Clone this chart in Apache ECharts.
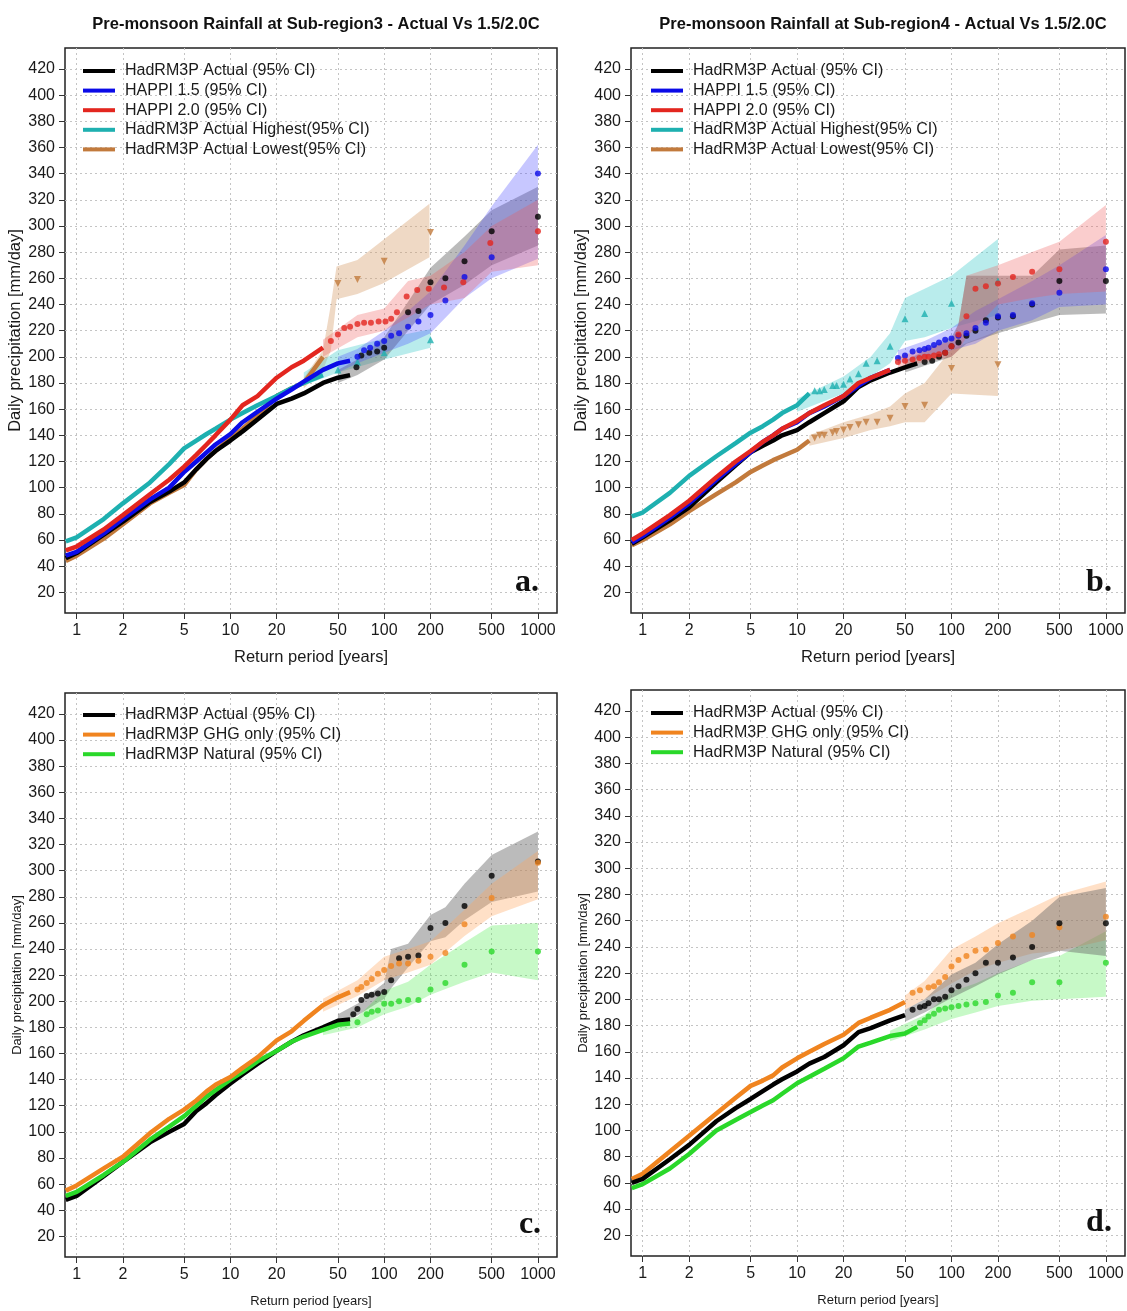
<!DOCTYPE html>
<html>
<head>
<meta charset="utf-8">
<title>Pre-monsoon rainfall return periods</title>
<script src="https://cdn.jsdelivr.net/npm/echarts@6.0.0/dist/echarts.min.js"></script>
<style>
  html, body { margin: 0; padding: 0; background: #fff; }
  #chart { width: 1127px; height: 1311px; }
</style>
</head>
<body>
<div id="chart"></div>
<script>
// axis ticks
const xTicks = [1, 2, 5, 10, 20, 50, 100, 200, 500, 1000];
const yTicks = [20, 40, 60, 80, 100, 120, 140, 160, 180, 200, 220, 240, 260, 280, 300, 320, 340, 360, 380, 400, 420];

// return periods of the dense part of every curve (drawn as a line)
const lineT = [0.85, 1, 1.5, 2, 3, 4, 5, 6, 7, 8, 10, 12, 15, 20, 25, 30, 40, 50, 60];

// ---- panel a : Sub-region3, actual vs 1.5/2.0C ----
const aBlackLine = [46, 50, 64, 74, 89, 97, 104, 114, 122, 128, 136, 143, 152, 164, 168, 172, 180, 184, 186];
const aBlackDotT = [66, 71, 80, 90, 100, 143, 167, 200, 250, 333, 500, 1000];
const aBlackDotV = [192, 201, 203, 204, 207, 234, 235, 257, 260, 273, 296, 307];
const aBlackBandT = [50, 67, 100, 143, 200, 333, 500, 1000];
const aBlackLo = [180, 186, 198, 220, 240, 255, 270, 285];
const aBlackHi = [190, 198, 215, 242, 268, 292, 312, 330];

const aBlueLine = [48, 51, 65, 76, 91, 100, 112, 120, 127, 133, 141, 150, 158, 168, 175, 181, 190, 195, 197];
const aBlueDotT = [67, 74, 81, 90, 100, 111, 125, 143, 167, 200, 250, 333, 500, 1000];
const aBlueDotV = [200, 205, 207, 210, 212, 216, 218, 223, 227, 232, 243, 261, 276, 340];
const aBlueBandT = [50, 67, 100, 143, 200, 333, 500, 1000];
const aBlueLo = [188, 195, 203, 210, 218, 245, 260, 275];
const aBlueHi = [200, 206, 220, 235, 250, 285, 315, 362];

const aRedLine = [52, 55, 68, 79, 95, 106, 116, 125, 133, 140, 152, 163, 170, 184, 192, 197, 207];
const aRedDotT = [45, 50, 55, 60, 67, 74, 82, 92, 102, 111, 121, 140, 164, 195, 245, 327, 490, 1000];
const aRedDotV = [212, 217, 222, 223, 225, 226, 226, 227, 227, 229, 234, 246, 251, 252, 253, 257, 287, 296];
const aRedBandT = [40, 67, 100, 143, 200, 333, 500, 1000];
const aRedLo = [200, 215, 220, 230, 240, 245, 265, 270];
const aRedHi = [213, 232, 237, 258, 262, 280, 300, 320];

const aCyanLine = [59, 62, 76, 88, 104, 118, 130, 136, 141, 145, 152, 157, 163, 170, 176, 180, 186];
const aCyanDotT = [50, 67, 100, 200];
const aCyanDotV = [190, 196, 203, 213];
const aCyanBandT = [30, 50, 100, 200];
const aCyanLo = [178, 188, 198, 207];
const aCyanHi = [188, 205, 214, 221];

const aBrownLine = [44, 48, 61, 72, 88, 96, 102, 114, 122, 128, 138, 145, 155, 170, 176, 180, 200];
const aBrownDotT = [50, 67, 100, 200];
const aBrownDotV = [256, 259, 273, 295];
const aBrownBandT = [30, 40, 45, 49, 67, 98, 197];
const aBrownLo = [176, 190, 205, 244, 248, 256, 276];
const aBrownHi = [184, 205, 240, 269, 274, 289, 317];

// ---- panel b : Sub-region4, actual vs 1.5/2.0C ----
const bBlackLine = [57, 62, 75, 85, 104, 117, 127, 132, 136, 140, 144, 150, 157, 166, 177, 182, 188, 192, 195];
const bBlackDotT = [67, 75, 83, 91, 100, 111, 125, 143, 167, 200, 250, 333, 500, 1000];
const bBlackDotV = [196, 197, 200, 203, 208, 211, 216, 220, 228, 230, 231, 240, 258, 258];
const bBlackBandT = [50, 100, 111, 125, 200, 333, 500, 1000];
const bBlackLo = [188, 200, 205, 210, 218, 226, 232, 233];
const bBlackHi = [197, 215, 225, 262, 262, 262, 282, 285];

const bBlueLine = [58, 63, 77, 88, 106, 118, 127, 135, 140, 145, 150, 157, 162, 170, 178, 184, 190];
const bBlueDotT = [45, 50, 56, 62, 67, 71, 77, 83, 91, 100, 111, 125, 143, 167, 200, 250, 333, 500, 1000];
const bBlueDotV = [199, 201, 204, 205, 206, 207, 209, 211, 213, 214, 216, 218, 222, 226, 231, 232, 241, 249, 267];
const bBlueBandT = [45, 67, 100, 143, 200, 333, 500, 1000];
const bBlueLo = [195, 200, 205, 210, 220, 228, 238, 240];
const bBlueHi = [205, 212, 222, 235, 244, 258, 270, 293];

const bRedLine = [60, 65, 79, 90, 108, 120, 128, 135, 140, 145, 151, 157, 163, 170, 180, 184, 190];
const bRedDotT = [45, 50, 56, 62, 67, 71, 77, 83, 91, 100, 111, 125, 143, 167, 200, 250, 333, 500, 1000];
const bRedDotV = [196, 197, 198, 199, 200, 200, 201, 202, 203, 208, 217, 231, 252, 254, 256, 261, 265, 267, 288];
const bRedBandT = [45, 100, 111, 125, 200, 333, 500, 1000];
const bRedLo = [192, 200, 205, 215, 240, 245, 248, 250];
const bRedHi = [200, 212, 225, 262, 270, 280, 288, 316];

const bCyanLine = [78, 81, 96, 109, 124, 134, 142, 147, 152, 157, 163, 172];
const bCyanDotT = [13, 14, 15, 17, 18, 20, 22, 25, 28, 33, 40, 50, 67, 100, 200];
const bCyanDotV = [174, 174, 175, 178, 178, 179, 183, 187, 195, 197, 208, 229, 233, 241, 258];
const bCyanBandT = [10, 20, 30, 40, 50, 67, 100, 200];
const bCyanLo = [158, 172, 185, 195, 212, 215, 222, 232];
const bCyanHi = [168, 185, 200, 218, 245, 252, 262, 290];

const bBrownLine = [56, 60, 72, 82, 95, 104, 112, 117, 121, 124, 129, 136];
const bBrownDotT = [13, 14, 15, 17, 18, 20, 22, 25, 28, 33, 40, 50, 67, 100, 200];
const bBrownDotV = [138, 140, 140, 142, 143, 144, 146, 148, 150, 150, 153, 162, 163, 191, 194];
const bBrownBandT = [12, 20, 30, 40, 50, 67, 100, 200];
const bBrownLo = [132, 138, 144, 147, 150, 150, 172, 170];
const bBrownHi = [140, 150, 156, 162, 172, 180, 206, 220];

// ---- panel c : Sub-region3, actual vs GHG only / natural ----
const cBlackLine = [48, 51, 66, 77, 92, 100, 106, 116, 122, 128, 137, 144, 152, 162, 169, 174, 180, 185, 186];
const cBlackDotT = [63, 67, 71, 77, 83, 91, 100, 111, 125, 143, 167, 200, 250, 333, 500, 1000];
const cBlackDotV = [190, 194, 201, 204, 205, 206, 207, 216, 233, 234, 235, 256, 260, 273, 296, 307];
const cBlackBandT = [50, 67, 100, 111, 143, 200, 250, 333, 500, 1000];
const cBlackLo = [182, 189, 202, 210, 226, 246, 249, 262, 276, 284];
const cBlackHi = [190, 198, 214, 240, 244, 266, 272, 290, 312, 330];

const cOrangeLine = [55, 59, 72, 81, 99, 110, 117, 124, 131, 136, 142, 149, 157, 170, 177, 185, 197, 203, 207];
const cOrangeDotT = [67, 71, 77, 83, 91, 100, 111, 125, 143, 167, 200, 250, 333, 500, 1000];
const cOrangeDotV = [209, 211, 214, 217, 221, 224, 227, 229, 229, 231, 234, 237, 259, 279, 306];
const cOrangeBandT = [40, 67, 100, 143, 200, 333, 500, 1000];
const cOrangeLo = [192, 204, 216, 222, 228, 250, 265, 278];
const cOrangeHi = [202, 216, 234, 240, 246, 270, 290, 315];

const cGreenLine = [51, 54, 67, 77, 94, 104, 112, 120, 127, 132, 140, 146, 154, 162, 169, 173, 178, 182, 183];
const cGreenDotT = [67, 77, 83, 91, 100, 111, 125, 143, 167, 200, 250, 333, 500, 1000];
const cGreenDotV = [184, 190, 192, 193, 198, 198, 200, 201, 201, 209, 214, 228, 238, 238];
const cGreenBandT = [40, 67, 100, 143, 200, 333, 500, 1000];
const cGreenLo = [174, 180, 190, 196, 205, 215, 222, 216];
const cGreenHi = [182, 188, 208, 215, 228, 245, 258, 260];

// ---- panel d : Sub-region4, actual vs GHG only / natural ----
const dBlackLine = [60, 63, 78, 89, 107, 117, 124, 130, 135, 139, 145, 151, 156, 165, 175, 178, 184, 188];
const dBlackDotT = [56, 62.5, 67, 71, 77, 83, 91, 100, 111, 125, 143, 167, 200, 250, 333, 500, 1000];
const dBlackDotV = [192, 194, 195, 197, 200, 200, 202, 207, 210, 215, 220, 228, 228, 232, 240, 258, 258];
const dBlackBandT = [50, 67, 100, 143, 200, 333, 500, 1000];
const dBlackLo = [183, 190, 201, 210, 219, 230, 237, 233];
const dBlackHi = [192, 200, 219, 228, 242, 260, 278, 285];

const dOrangeLine = [63, 67, 84, 96, 113, 125, 134, 138, 142, 148, 155, 160, 166, 173, 182, 186, 192, 198];
const dOrangeDotT = [56, 62.5, 71, 77, 83, 91, 100, 111, 125, 143, 167, 200, 250, 333, 500, 1000];
const dOrangeDotV = [205, 207, 209, 210, 213, 217, 225, 230, 233, 237, 238, 243, 248, 249, 255, 263];
const dOrangeBandT = [50, 67, 100, 143, 200, 333, 500, 1000];
const dOrangeLo = [192, 200, 212, 222, 228, 235, 237, 245];
const dOrangeHi = [203, 214, 238, 248, 258, 270, 280, 290];

const dGreenLine = [56, 59, 71, 82, 100, 108, 114, 119, 123, 128, 136, 141, 147, 155, 164, 167, 172, 174, 179];
const dGreenDotT = [62.5, 67, 71, 77, 83, 91, 100, 111, 125, 143, 167, 200, 250, 333, 500, 1000];
const dGreenDotV = [182, 184, 187, 189, 192, 193, 194, 195, 196, 197, 198, 203, 205, 213, 213, 228];
const dGreenBandT = [40, 67, 100, 143, 200, 333, 500, 1000];
const dGreenLo = [168, 177, 185, 190, 195, 199, 200, 202];
const dGreenHi = [176, 188, 206, 212, 220, 230, 233, 252];

const NAMES = {
  actual: 'HadRM3P Actual (95% CI)',
  h15: 'HAPPI 1.5 (95% CI)',
  h20: 'HAPPI 2.0 (95% CI)',
  high: 'HadRM3P Actual Highest(95% CI)',
  low: 'HadRM3P Actual Lowest(95% CI)',
  ghg: 'HadRM3P GHG only (95% CI)',
  nat: 'HadRM3P Natural (95% CI)'
};
const COL = {
  actual: '#000000', h15: '#0b0be8', h20: '#e3261f', high: '#1eb0b0',
  low: '#c27a3c', ghg: '#f0841f', nat: '#2ad82a'
};
const FILL = {
  actual: 'rgba(105,105,105,0.45)', h15: 'rgba(70,70,255,0.3)', h20: 'rgba(240,90,90,0.3)',
  high: 'rgba(70,205,205,0.38)', low: 'rgba(215,160,110,0.4)', ghg: 'rgba(255,165,95,0.35)',
  nat: 'rgba(80,235,80,0.32)'
};

const FONT = '"Liberation Sans", Arial, sans-serif';
const fmt = v => String(+Number(v).toPrecision(6));

function pairs(T, V) {
  return V.map((v, i) => [T[i], v]);
}

// one curve = CI band + dense line + sparse points
function curve(g, key, lineV, dotT, dotV, bandT, lo, hi, sym) {
  const color = COL[key];
  return [
    {
      type: 'custom', xAxisIndex: g, yAxisIndex: g, z: 1, silent: true,
      data: bandT.map((t, i) => [t, lo[i], hi[i]]),
      encode: { x: 0, y: [1, 2] },
      renderItem: function (params, api) {
        if (params.dataIndex !== 0) return null;
        const poly = bandT.map((t, i) => api.coord([t, hi[i]]));
        for (let i = bandT.length - 1; i >= 0; i--) poly.push(api.coord([bandT[i], lo[i]]));
        return { type: 'polygon', shape: { points: poly }, style: { fill: FILL[key] } };
      }
    },
    {
      type: 'line', name: NAMES[key], xAxisIndex: g, yAxisIndex: g, z: 3,
      data: pairs(lineT, lineV), showSymbol: false,
      lineStyle: { color: color, width: 4.5 }, itemStyle: { color: color }
    },
    {
      type: 'scatter', xAxisIndex: g, yAxisIndex: g, z: 4,
      data: pairs(dotT, dotV),
      symbol: sym === 'down' || sym === 'up' ? 'triangle' : 'circle',
      symbolRotate: sym === 'down' ? 180 : 0,
      symbolSize: sym ? 7 : 6,
      itemStyle: { color: color }
    }
  ];
}

const grids = [
  { left: 65, top: 48, width: 492, height: 565 },
  { left: 631, top: 48, width: 494, height: 565 },
  { left: 65, top: 693, width: 492, height: 564 },
  { left: 631, top: 690, width: 494, height: 566 }
].map(g => Object.assign(g, {
  show: true, borderColor: '#222', borderWidth: 1.5, containLabel: false, outerBoundsMode: 'none'
}));

const gridLine = { show: true, lineStyle: { color: '#c4c4c4', width: 1, type: [2, 3] } };

const xAxes = grids.map((g, i) => ({
  type: 'log', logBase: 10, gridIndex: i, min: 0.84, max: 1330,
  axisLine: { show: false },
  axisTick: { show: true, length: 6, customValues: xTicks, lineStyle: { color: '#333' } },
  axisLabel: { customValues: xTicks, fontSize: 16, color: '#1a1a1a', margin: 10, formatter: fmt, fontFamily: FONT },
  splitLine: gridLine,
  name: 'Return period [years]', nameLocation: 'middle', nameGap: i < 2 ? 36 : 38,
  nameTextStyle: { fontSize: i < 2 ? 16.5 : 13, color: '#1a1a1a', fontFamily: FONT }
}));

const yAxes = grids.map((g, i) => ({
  type: 'value', gridIndex: i, min: 4.2, max: 436,
  axisLine: { show: false },
  axisTick: { show: true, length: 6, customValues: yTicks, lineStyle: { color: '#333' } },
  axisLabel: { customValues: yTicks, fontSize: 16, color: '#1a1a1a', margin: 10, formatter: fmt, fontFamily: FONT },
  splitLine: gridLine,
  name: 'Daily precipitation [mm/day]', nameLocation: 'middle', nameGap: i < 2 ? 38 : 40,
  nameTextStyle: { fontSize: i < 2 ? 16.5 : 13, color: '#1a1a1a', fontFamily: FONT }
}));

function legend(left, top, keys) {
  return {
    left: left, top: top, orient: 'vertical', icon: 'rect',
    itemWidth: 32, itemHeight: 4, itemGap: 3.6, selectedMode: false,
    textStyle: { fontSize: 16, color: '#1a1a1a', lineHeight: 16, padding: [0, 0, 0, 5], fontFamily: FONT },
    data: keys.map(k => ({ name: NAMES[k], itemStyle: { color: COL[k] } }))
  };
}

const titleStyle = { fontSize: 16.5, fontWeight: 'bold', color: '#111', fontFamily: FONT };
const letterStyle = { fontSize: 32, fontWeight: 'bold', color: '#111', fontFamily: '"Liberation Serif", "DejaVu Serif", serif' };

const series = [].concat(
  curve(0, 'low', aBrownLine, aBrownDotT, aBrownDotV, aBrownBandT, aBrownLo, aBrownHi, 'down'),
  curve(0, 'high', aCyanLine, aCyanDotT, aCyanDotV, aCyanBandT, aCyanLo, aCyanHi, 'up'),
  curve(0, 'actual', aBlackLine, aBlackDotT, aBlackDotV, aBlackBandT, aBlackLo, aBlackHi),
  curve(0, 'h15', aBlueLine, aBlueDotT, aBlueDotV, aBlueBandT, aBlueLo, aBlueHi),
  curve(0, 'h20', aRedLine, aRedDotT, aRedDotV, aRedBandT, aRedLo, aRedHi),

  curve(1, 'low', bBrownLine, bBrownDotT, bBrownDotV, bBrownBandT, bBrownLo, bBrownHi, 'down'),
  curve(1, 'high', bCyanLine, bCyanDotT, bCyanDotV, bCyanBandT, bCyanLo, bCyanHi, 'up'),
  curve(1, 'actual', bBlackLine, bBlackDotT, bBlackDotV, bBlackBandT, bBlackLo, bBlackHi),
  curve(1, 'h15', bBlueLine, bBlueDotT, bBlueDotV, bBlueBandT, bBlueLo, bBlueHi),
  curve(1, 'h20', bRedLine, bRedDotT, bRedDotV, bRedBandT, bRedLo, bRedHi),

  curve(2, 'actual', cBlackLine, cBlackDotT, cBlackDotV, cBlackBandT, cBlackLo, cBlackHi),
  curve(2, 'nat', cGreenLine, cGreenDotT, cGreenDotV, cGreenBandT, cGreenLo, cGreenHi),
  curve(2, 'ghg', cOrangeLine, cOrangeDotT, cOrangeDotV, cOrangeBandT, cOrangeLo, cOrangeHi),

  curve(3, 'nat', dGreenLine, dGreenDotT, dGreenDotV, dGreenBandT, dGreenLo, dGreenHi),
  curve(3, 'ghg', dOrangeLine, dOrangeDotT, dOrangeDotV, dOrangeBandT, dOrangeLo, dOrangeHi),
  curve(3, 'actual', dBlackLine, dBlackDotT, dBlackDotV, dBlackBandT, dBlackLo, dBlackHi)
);

const chart = echarts.init(document.getElementById('chart'), null, { renderer: 'canvas' });
chart.setOption({
  backgroundColor: '#ffffff',
  animation: false,
  textStyle: { fontFamily: FONT },
  title: [
    { text: 'Pre-monsoon Rainfall at Sub-region3 - Actual Vs 1.5/2.0C', left: 311, top: 11, textAlign: 'center', textStyle: titleStyle },
    { text: 'Pre-monsoon Rainfall at Sub-region4 - Actual Vs 1.5/2.0C', left: 878, top: 11, textAlign: 'center', textStyle: titleStyle },
    { text: 'a.', left: 522, top: 562, textAlign: 'center', textStyle: letterStyle },
    { text: 'b.', left: 1094, top: 562, textAlign: 'center', textStyle: letterStyle },
    { text: 'c.', left: 525, top: 1204, textAlign: 'center', textStyle: letterStyle },
    { text: 'd.', left: 1094, top: 1202, textAlign: 'center', textStyle: letterStyle }
  ],
  legend: [
    legend(78, 58, ['actual', 'h15', 'h20', 'high', 'low']),
    legend(646, 58, ['actual', 'h15', 'h20', 'high', 'low']),
    legend(78, 702, ['actual', 'ghg', 'nat']),
    legend(646, 700, ['actual', 'ghg', 'nat'])
  ],
  grid: grids,
  xAxis: xAxes,
  yAxis: yAxes,
  series: series
});
</script>
</body>
</html>
